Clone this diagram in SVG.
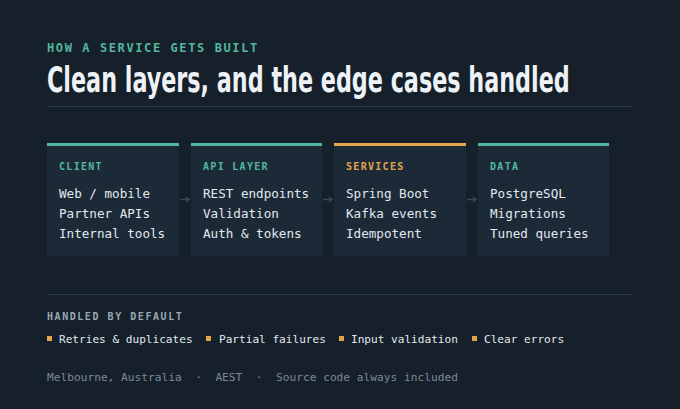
<svg xmlns="http://www.w3.org/2000/svg" width="680" height="409" viewBox="0 0 680 409">
<defs>
<style>
.eyebrow{font-family:"DejaVu Sans Mono",monospace;font-weight:bold;font-size:12px;letter-spacing:1.6px;fill:#52b79e}
.title{font-family:"DejaVu Sans Condensed","DejaVu Sans",sans-serif;font-stretch:condensed;font-weight:bold;font-size:36px;fill:#eef2f6}
.card{fill:#1c2a38}
.lab{font-family:"DejaVu Sans Mono",monospace;font-weight:bold;font-size:10px;letter-spacing:1.3px}
.body{font-family:"DejaVu Sans Mono",monospace;font-size:12.6px;fill:#e3e8ee}
.teal{fill:#52b79e}
.orange{fill:#e3a54c}
.sec{font-family:"DejaVu Sans Mono",monospace;font-weight:bold;font-size:10px;letter-spacing:1.55px;fill:#9aa6b3}
.chip{font-family:"DejaVu Sans Mono",monospace;font-size:11.1px;fill:#e3e8ee}
.foot{font-family:"DejaVu Sans Mono",monospace;font-size:11.2px;fill:#7d8996}
.rule{stroke:#2e3c4b;stroke-width:1}
.arr{stroke:#3a4a5b;stroke-width:1.5;fill:none}
</style>
</defs>
<rect width="680" height="409" fill="#15202a"/>
<text class="eyebrow" x="47" y="52">HOW A SERVICE GETS BUILT</text>
<text class="title" transform="translate(47 92) scale(0.72 1)" x="0" y="0" textLength="726" lengthAdjust="spacingAndGlyphs">Clean layers, and the edge cases handled</text>
<line class="rule" x1="47" y1="106.5" x2="632" y2="106.5"/>

<g id="client">
<rect class="card" x="47" y="143" width="132" height="113"/>
<rect class="teal" x="47" y="143" width="132" height="3"/>
<text class="lab teal" x="59" y="170">CLIENT</text>
<text class="body" x="59" y="198">Web / mobile</text>
<text class="body" x="59" y="218">Partner APIs</text>
<text class="body" x="59" y="238">Internal tools</text>
</g>
<g id="api">
<rect class="card" x="191" y="143" width="131" height="113"/>
<rect class="teal" x="191" y="143" width="131" height="3"/>
<text class="lab teal" x="203" y="170">API LAYER</text>
<text class="body" x="203" y="198">REST endpoints</text>
<text class="body" x="203" y="218">Validation</text>
<text class="body" x="203" y="238">Auth &amp; tokens</text>
</g>
<g id="services">
<rect class="card" x="334" y="143" width="132" height="113"/>
<rect class="orange" x="334" y="143" width="132" height="3"/>
<text class="lab orange" x="346" y="170">SERVICES</text>
<text class="body" x="346" y="198">Spring Boot</text>
<text class="body" x="346" y="218">Kafka events</text>
<text class="body" x="346" y="238">Idempotent</text>
</g>
<g id="data">
<rect class="card" x="478" y="143" width="131" height="113"/>
<rect class="teal" x="478" y="143" width="131" height="3"/>
<text class="lab teal" x="490" y="170">DATA</text>
<text class="body" x="490" y="198">PostgreSQL</text>
<text class="body" x="490" y="218">Migrations</text>
<text class="body" x="490" y="238">Tuned queries</text>
</g>
<g id="connectors">
<path class="arr" d="M180 199.5H189M186 197L189 199.5L186 202"/>
<path class="arr" d="M323 199.5H332M329 197L332 199.5L329 202"/>
<path class="arr" d="M467 199.5H476M473 197L476 199.5L473 202"/>
</g>

<line class="rule" x1="47" y1="294.5" x2="632" y2="294.5"/>
<text class="sec" x="47" y="320">HANDLED BY DEFAULT</text>
<rect class="orange" x="47" y="336" width="5" height="5"/>
<text class="chip" x="59" y="343">Retries &amp; duplicates</text>
<rect class="orange" x="206" y="336" width="5" height="5"/>
<text class="chip" x="219" y="343">Partial failures</text>
<rect class="orange" x="339" y="336" width="5" height="5"/>
<text class="chip" x="351" y="343">Input validation</text>
<rect class="orange" x="472" y="336" width="5" height="5"/>
<text class="chip" x="484" y="343">Clear errors</text>
<text class="foot" x="47" y="381" xml:space="preserve">Melbourne, Australia  ·  AEST  ·  Source code always included</text>
</svg>
